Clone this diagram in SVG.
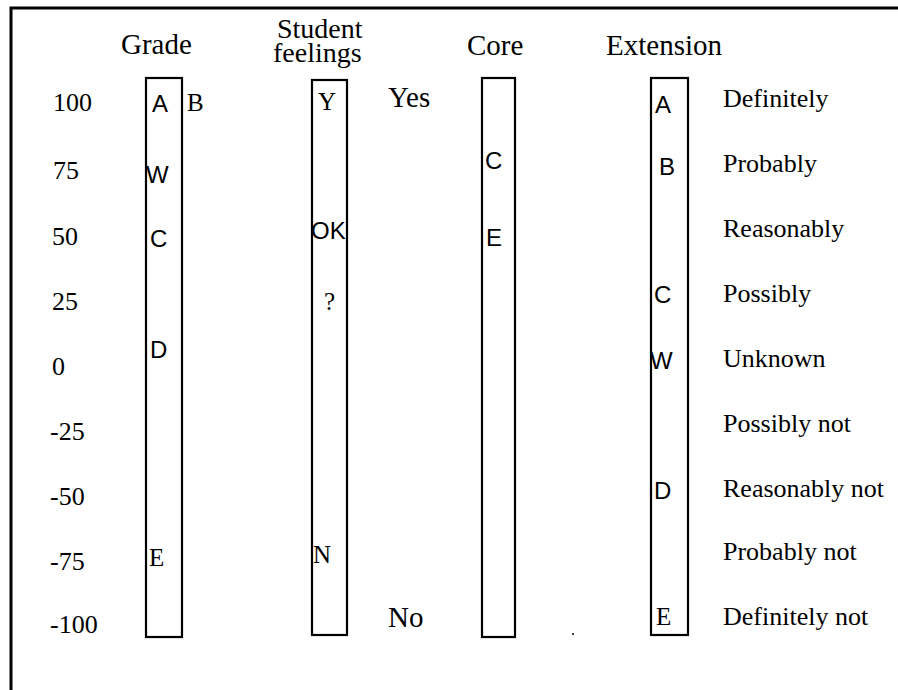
<svg xmlns="http://www.w3.org/2000/svg" width="898" height="690" viewBox="0 0 898 690">
<style>
  .frame { fill: none; stroke: #000; stroke-width: 3; }
  .bar { fill: #fff; stroke: #000; stroke-width: 2.2; }
  .hd { font-family: "Liberation Serif", "Times New Roman", serif; font-size: 29px; fill: #000; }
  .hd2 { font-family: "Liberation Serif", "Times New Roman", serif; font-size: 28px; fill: #000; }
  .lbl { font-family: "Liberation Serif", "Times New Roman", serif; font-size: 26px; fill: #000; }
  .big { font-family: "Liberation Serif", "Times New Roman", serif; font-size: 29px; fill: #000; }
  .ss { font-family: "Liberation Sans", Arial, sans-serif; font-size: 24px; fill: #000; }
  .sf { font-family: "Liberation Serif", "Times New Roman", serif; font-size: 25px; fill: #000; }
</style>
<rect width="898" height="690" fill="#fff"/>
<g id="frame">
  <polyline class="frame" points="11,690 11,8 898,8"/>
</g>
<g id="scale">
  <text class="lbl" x="53" y="111">100</text>
  <text class="lbl" x="53" y="179">75</text>
  <text class="lbl" x="52" y="245">50</text>
  <text class="lbl" x="52" y="310">25</text>
  <text class="lbl" x="52" y="375">0</text>
  <text class="lbl" x="50" y="440">-25</text>
  <text class="lbl" x="50" y="505">-50</text>
  <text class="lbl" x="50" y="570">-75</text>
  <text class="lbl" x="50" y="633">-100</text>
</g>
<g id="grade">
  <text class="hd" x="121" y="54">Grade</text>
  <rect class="bar" x="146" y="78" width="36" height="559"/>
  <text class="ss" x="152" y="112">A</text>
  <text class="sf" x="187" y="111">B</text>
  <text class="ss" x="146" y="183">W</text>
  <text class="ss" x="150" y="247">C</text>
  <text class="ss" x="150" y="358">D</text>
  <text class="sf" x="149" y="566">E</text>
</g>
<g id="student-feelings">
  <text class="hd2" x="277" y="38">Student</text>
  <text class="hd2" x="273" y="62">feelings</text>
  <rect class="bar" x="312" y="80" width="35" height="555"/>
  <text class="sf" x="318" y="110">Y</text>
  <text class="ss" x="311" y="239">OK</text>
  <text class="sf" x="324" y="310">?</text>
  <text class="sf" x="313" y="563">N</text>
  <text class="big" x="388" y="107">Yes</text>
  <text class="big" x="388" y="627">No</text>
</g>
<g id="core">
  <text class="hd" x="467" y="55">Core</text>
  <rect class="bar" x="482" y="78" width="33" height="559"/>
  <text class="ss" x="485" y="169">C</text>
  <text class="ss" x="486" y="246">E</text>
</g>
<g id="extension">
  <text class="hd" x="606" y="55">Extension</text>
  <rect class="bar" x="651" y="78" width="37" height="557"/>
  <text class="ss" x="655" y="113">A</text>
  <text class="ss" x="659" y="175">B</text>
  <text class="ss" x="654" y="303">C</text>
  <text class="ss" x="650" y="369">W</text>
  <text class="ss" x="654" y="499">D</text>
  <text class="sf" x="656" y="625">E</text>
  <text class="lbl" x="723" y="107">Definitely</text>
  <text class="lbl" x="723" y="172">Probably</text>
  <text class="lbl" x="723" y="237">Reasonably</text>
  <text class="lbl" x="723" y="302">Possibly</text>
  <text class="lbl" x="723" y="367">Unknown</text>
  <text class="lbl" x="723" y="432">Possibly not</text>
  <text class="lbl" x="723" y="497">Reasonably not</text>
  <text class="lbl" x="723" y="560">Probably not</text>
  <text class="lbl" x="723" y="625">Definitely not</text>
</g>
<g id="connectors"></g>
<circle cx="573" cy="634" r="1" fill="#000"/>
</svg>
